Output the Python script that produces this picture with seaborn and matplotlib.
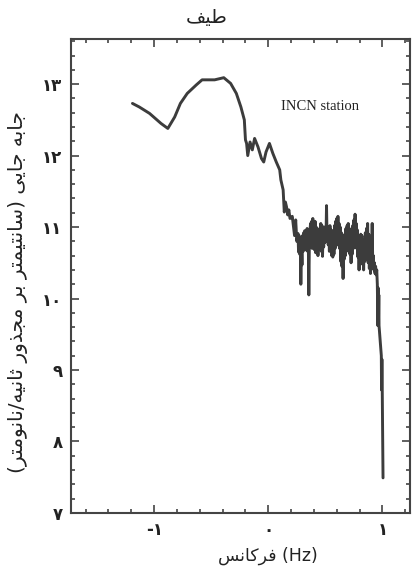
import numpy as np
import pandas as pd
import matplotlib
matplotlib.use("Agg")
import matplotlib.pyplot as plt
from matplotlib.ticker import FixedLocator, MultipleLocator
import seaborn as sns

# ---------------- data ----------------
# smooth / moderately noisy part
freq_head = [-1.19, -1.13, -1.04, -0.94, -0.88, -0.82, -0.77, -0.71, -0.63, -0.58,
             -0.47, -0.39, -0.33, -0.28, -0.24, -0.21, -0.20, -0.19, -0.18, -0.16,
             -0.14, -0.12, -0.09, -0.06, -0.04, -0.02, 0.01, 0.04, 0.07, 0.10,
             0.11, 0.13, 0.14, 0.15, 0.16, 0.17, 0.18, 0.19, 0.21, 0.23,
             0.24, 0.25]
spec_head = [12.73, 12.68, 12.59, 12.45, 12.38, 12.54, 12.73, 12.87, 12.99, 13.06,
             13.06, 13.09, 13.01, 12.87, 12.68, 12.50, 12.22, 12.17, 12.00, 12.19,
             12.08, 12.24, 12.12, 11.96, 11.91, 12.05, 12.17, 12.03, 11.91, 11.80,
             11.66, 11.52, 11.21, 11.35, 11.28, 11.17, 11.24, 11.12, 11.15, 10.88,
             11.10, 10.80]

# dense noisy plateau
freq_noise = [0.260, 0.265, 0.270, 0.275, 0.280, 0.285, 0.290, 0.295, 0.300, 0.305,
              0.310, 0.315, 0.320, 0.325, 0.330, 0.335, 0.340, 0.345, 0.350, 0.355,
              0.360, 0.365, 0.370, 0.375, 0.380, 0.385, 0.390, 0.395, 0.400, 0.405,
              0.410, 0.415, 0.420, 0.425, 0.430, 0.435, 0.440, 0.445, 0.450, 0.455,
              0.460, 0.465, 0.470, 0.475, 0.480, 0.485, 0.490, 0.495, 0.500, 0.505,
              0.510, 0.515, 0.520, 0.525, 0.530, 0.535, 0.540, 0.545, 0.550, 0.555,
              0.560, 0.565, 0.570, 0.575, 0.580, 0.585, 0.590, 0.595, 0.600, 0.605,
              0.610, 0.615, 0.620, 0.625, 0.630, 0.635, 0.640, 0.645, 0.650, 0.655,
              0.660, 0.665, 0.670, 0.675, 0.680, 0.685, 0.690, 0.695, 0.700, 0.705,
              0.710, 0.715, 0.720, 0.725, 0.730, 0.735, 0.740, 0.745, 0.750, 0.755,
              0.760, 0.765, 0.770, 0.775, 0.780, 0.785, 0.790, 0.795, 0.800, 0.805,
              0.810, 0.815, 0.820, 0.825, 0.830, 0.835, 0.840, 0.845, 0.850, 0.855,
              0.860, 0.865, 0.870, 0.875, 0.880, 0.885, 0.890, 0.895, 0.900, 0.905,
              0.910, 0.915, 0.920, 0.925, 0.930, 0.935, 0.940, 0.945, 0.950]
spec_noise = [10.91, 10.65, 10.88, 10.62, 10.85, 10.20, 10.72, 10.47, 10.88, 10.66,
              10.92, 10.70, 10.95, 10.68, 10.90, 10.72, 10.98, 10.66, 10.90, 10.05,
              10.82, 10.95, 11.05, 10.75, 11.08, 10.70, 11.12, 10.74, 11.02, 10.68,
              11.08, 10.64, 11.00, 10.66, 10.98, 10.60, 10.95, 10.70, 10.92, 10.72,
              11.05, 10.66, 11.02, 10.59, 10.96, 10.72, 11.00, 10.78, 10.95, 10.80,
              11.30, 10.82, 11.00, 10.75, 10.98, 10.66, 11.02, 10.68, 10.96, 10.60,
              10.92, 10.58, 10.95, 10.62, 11.02, 10.70, 11.08, 10.74, 11.12, 10.78,
              11.15, 10.82, 11.05, 10.70, 11.00, 10.52, 10.92, 10.45, 10.88, 10.28,
              10.80, 10.55, 10.90, 10.60, 10.98, 10.66, 11.02, 10.70, 11.05, 10.68,
              10.98, 10.62, 10.92, 10.50, 10.95, 10.62, 11.02, 10.70, 11.10, 10.72,
              11.18, 10.76, 11.05, 10.70, 10.96, 10.58, 10.88, 10.40, 10.85, 10.55,
              10.90, 10.60, 10.88, 10.48, 10.82, 10.40, 10.80, 10.52, 10.92, 10.58,
              10.98, 10.55, 11.05, 10.50, 10.90, 10.42, 10.85, 10.35, 10.70, 10.48,
              11.05, 10.45, 10.60, 10.40, 10.50, 10.35, 10.45, 10.33, 10.40]

# steep fall-off at the end
freq_tail = [0.955, 0.960, 0.962, 0.965, 0.968, 0.970, 0.990, 0.992, 0.995, 0.998, 1.005]
spec_tail = [10.20, 9.62, 10.15, 9.65, 10.05, 9.62, 9.20, 8.72, 9.15, 8.75, 7.49]

x_ticks = [-1, 0, 1]
x_ticklabels = ["-۱", "۰", "۱"]
y_ticks = [7, 8, 9, 10, 11, 12, 13]
y_ticklabels = ["۷", "۸", "۹", "۱۰", "۱۱", "۱۲", "۱۳"]

title_text = "طیف"
xlabel_text = "فرکانس"
xlabel_unit = " (Hz)"
ylabel_text = "جابه جایی (سانتیمتر بر مجذور ثانیه/نانومتر)"
station_text = "INCN station"

# ------------- minimal Arabic-script shaping (visual order) -------------
FORMS = {
    "ا": ("\uFE8D", "\uFE8E"),
    "ب": ("\uFE8F", "\uFE90", "\uFE91", "\uFE92"),
    "ت": ("\uFE95", "\uFE96", "\uFE97", "\uFE98"),
    "ث": ("\uFE99", "\uFE9A", "\uFE9B", "\uFE9C"),
    "ج": ("\uFE9D", "\uFE9E", "\uFE9F", "\uFEA0"),
    "ذ": ("\uFEAB", "\uFEAC"),
    "ر": ("\uFEAD", "\uFEAE"),
    "س": ("\uFEB1", "\uFEB2", "\uFEB3", "\uFEB4"),
    "ط": ("\uFEC1", "\uFEC2", "\uFEC3", "\uFEC4"),
    "ف": ("\uFED1", "\uFED2", "\uFED3", "\uFED4"),
    "ک": ("\uFB8E", "\uFB8F", "\uFB90", "\uFB91"),
    "م": ("\uFEE1", "\uFEE2", "\uFEE3", "\uFEE4"),
    "ن": ("\uFEE5", "\uFEE6", "\uFEE7", "\uFEE8"),
    "ه": ("\uFEE9", "\uFEEA", "\uFEEB", "\uFEEC"),
    "و": ("\uFEED", "\uFEEE"),
    "ی": ("\uFBFC", "\uFBFD", "\uFBFE", "\uFBFF"),
}
MIRROR = {"(": ")", ")": "("}


def shape(s):
    out = []
    n = len(s)
    for i, c in enumerate(s):
        if c not in FORMS:
            out.append(c)
            continue
        f = FORMS[c]
        prev = s[i - 1] if i > 0 else ""
        nxt = s[i + 1] if i + 1 < n else ""
        jp = prev in FORMS and len(FORMS[prev]) == 4
        jn = len(f) == 4 and nxt in FORMS
        if jp and jn:
            out.append(f[3])
        elif jn:
            out.append(f[2])
        elif jp:
            out.append(f[1])
        else:
            out.append(f[0])
    return "".join(MIRROR.get(c, c) for c in reversed(out))


# ---------------- plot ----------------
sns.set_theme(style="ticks")
plt.rcParams["font.family"] = ["DejaVu Sans"]

fig = plt.figure(figsize=(4.14, 5.75), dpi=100)
ax = fig.add_axes([0.171, 0.108, 0.819, 0.824])

df = pd.DataFrame({"freq": freq_head + freq_noise + freq_tail,
                   "spectrum": spec_head + spec_noise + spec_tail})
sns.lineplot(data=df, x="freq", y="spectrum", sort=False, estimator=None,
             color="#3c3c3c", linewidth=2.1, ax=ax)

ax.set_xlim(-1.73, 1.24)
ax.set_ylim(7, 13.63)
ax.xaxis.set_major_locator(FixedLocator(x_ticks))
ax.set_xticklabels(x_ticklabels, fontsize=12, fontweight="bold")
ax.xaxis.set_minor_locator(MultipleLocator(0.2))
ax.yaxis.set_major_locator(FixedLocator(y_ticks))
ax.set_yticklabels(y_ticklabels, fontsize=12, fontweight="bold")
ax.yaxis.set_minor_locator(MultipleLocator(0.2))
ax.tick_params(which="both", direction="in", top=True, right=True,
               color="#444444", width=1.2, labelcolor="#222222")
ax.tick_params(which="major", length=6, pad=6)
ax.tick_params(which="minor", length=3)
for sp in ax.spines.values():
    sp.set_linewidth(1.5)
    sp.set_color("#444444")
ax.set_xlabel("")
ax.set_ylabel("")

ax.annotate(station_text, xy=(320, 575 - 106), xycoords="figure pixels",
            fontsize=10.5, family="Liberation Serif", ha="center",
            va="center", color="#222222")

fig.text(0.5, 1 - 18 / 575, shape(title_text), ha="center",
         va="center", fontsize=14, color="#222222")
fig.text(268 / 414, 1 - 556 / 575, shape(xlabel_text) + xlabel_unit,
         ha="center", va="center", fontsize=12.5, color="#222222")
fig.text(18 / 414, 1 - 292 / 575, shape(ylabel_text), rotation=90,
         ha="center", va="center", fontsize=14.5, color="#222222")

fig.savefig("out.png", dpi=100, facecolor="white")
